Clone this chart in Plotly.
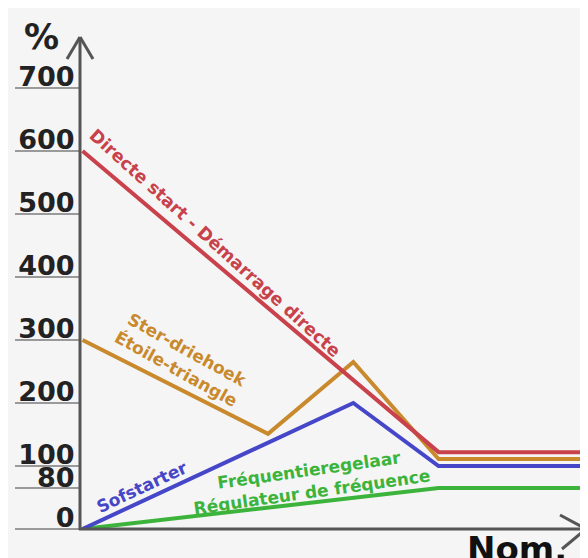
import plotly.graph_objects as go

# ---- data ----
# x: arbitrary time-to-nominal-speed units (0 = start, 100 = right edge)
red_x = [0, 71, 100]
red_y = [600, 122, 122]
orange_x = [0, 37, 54, 71, 100]
orange_y = [300, 151, 265, 111, 111]
blue_x = [0, 54, 71, 100]
blue_y = [0, 200, 100, 100]
green_x = [0, 71, 100]
green_y = [0, 65, 65]

tick_vals = [0, 65, 100, 200, 300, 400, 500, 600, 700]
tick_text = ["0", "80", "100", "200", "300", "400", "500", "600", "700"]

RED = "#c8414b"
ORANGE = "#c98a2e"
BLUE = "#4646c8"
GREEN = "#3cb43c"
AXIS = "#555555"
BG = "#f5f5f5"

OFF = 8  # page body margin
W, H = 588 - OFF, 558 - OFF
# plot area in window pixels
L, R, T, B = 80, 588, 30, 529


def px(x):
    return (x - L) / (R - L)


def py(y):
    return (B - y) / (B - T)


fig = go.Figure()
for xs, ys, c in [(green_x, green_y, GREEN), (blue_x, blue_y, BLUE),
                  (orange_x, orange_y, ORANGE), (red_x, red_y, RED)]:
    fig.add_trace(go.Scatter(x=xs, y=ys, mode="lines",
                             line=dict(color=c, width=4), hoverinfo="skip",
                             showlegend=False))

FONT = "DejaVu Sans"

annotations = [
    dict(text="%", x=px(41), y=py(37), font=dict(size=35, color="#222")),
    dict(text="Nom.", x=px(517), y=py(549), font=dict(size=34, color="#111")),
    dict(text="Directe start - Démarrage directe", x=px(215), y=py(243),
         textangle=42, font=dict(size=17.5, color=RED)),
    dict(text="Ster-driehoek<br>Étoile-triangle", x=px(181), y=py(359),
         textangle=29, font=dict(size=17, color=ORANGE)),
    dict(text="Sofstarter", x=px(142), y=py(487), textangle=-25,
         font=dict(size=17, color=BLUE)),
    dict(text="Fréquentieregelaar<br>Régulateur de fréquence", x=px(310),
         y=py(481), textangle=-8, font=dict(size=17, color=GREEN)),
]
for a in annotations:
    a.update(xref="paper", yref="paper", showarrow=False,
             xanchor="center", yanchor="middle")
    a["font"]["family"] = FONT
    a["font"]["weight"] = "bold"

shapes = []
# axes with open arrow heads
for (x0, y0, x1, y1) in [(80, 530, 80, 37), (67, 59, 80, 37), (93, 59, 80, 37),
                         (79, 529, 586, 529), (560, 515, 586, 529),
                         (562, 549, 586, 529)]:
    shapes.append(dict(type="line", xref="paper", yref="paper",
                       x0=px(x0), y0=py(y0), x1=px(x1), y1=py(y1),
                       line=dict(color=AXIS, width=3)))

fig.update_layout(
    width=W, height=H,
    margin=dict(l=L - OFF, r=588 - R, t=T - OFF, b=558 - B),
    paper_bgcolor=BG, plot_bgcolor=BG,
    annotations=annotations, shapes=shapes,
    xaxis=dict(range=[-0.5, 100.8], visible=False, fixedrange=True),
    yaxis=dict(range=[0, 792], showgrid=False, zeroline=False, showline=False,
               tickvals=tick_vals, ticktext=tick_text,
               ticks="outside", ticklen=64, tickcolor="#9a9a9a", tickwidth=1.5,
               ticklabelstandoff=-65, ticklabelshift=-11, automargin=False,
               tickfont=dict(family=FONT, size=27, color="#222", weight="bold")),
)

fig.write_html("out.html")
